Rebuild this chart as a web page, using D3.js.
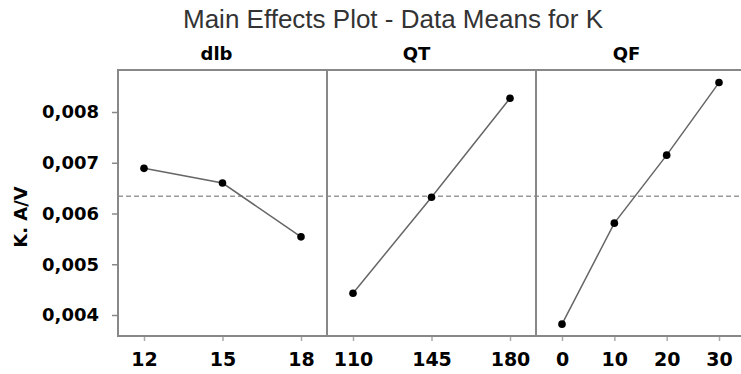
<!DOCTYPE html>
<html>
<head>
<meta charset="utf-8">
<script src="https://cdn.jsdelivr.net/npm/d3@7"></script>
<style>
  body { margin: 0; background: #fff; }
  .tick text { font-family: "DejaVu Sans", sans-serif; font-weight: bold; fill: #000; }
</style>
</head>
<body>
<div id="chart"></div>
<script>
var svgWidth = 741;
var svgHeight = 374;

// factors and their levels
var factors = ["dlb", "QT", "QF"];
var dlbLevels = [12, 15, 18];
var qtLevels = [110, 145, 180];
var qfLevels = [0, 10, 20, 30];

// mean K for each level
var dlbMeans = [0.00689, 0.00660, 0.00554];
var qtMeans = [0.00443, 0.00632, 0.00827];
var qfMeans = [0.00382, 0.00581, 0.00715, 0.00858];

var grandMean = 0.00634;
var yTicks = [0.004, 0.005, 0.006, 0.007, 0.008];

var levels = [dlbLevels, qtLevels, qfLevels];
var means = [dlbMeans, qtMeans, qfMeans];

var plot = { left: 118, right: 745, top: 70, bottom: 336 };
var panelW = (plot.right - plot.left) / factors.length;

var svg = d3.select("#chart")
  .append("svg")
  .attr("width", svgWidth)
  .attr("height", svgHeight);

var locale = d3.formatLocale({ decimal: ",", thousands: ".", grouping: [3], currency: ["", ""] });
var fmt = locale.format(".3f");

// y scale: 0,004 -> 315px, 0,008 -> 112px
var y = d3.scaleLinear()
  .domain([0.004, 0.008])
  .range([315, 112]);

// title
svg.append("text")
  .attr("x", 393)
  .attr("y", 28)
  .attr("text-anchor", "middle")
  .style("font-family", "Liberation Sans, Arial, sans-serif")
  .style("font-size", "26px")
  .attr("fill", "#333")
  .text("Main Effects Plot - Data Means for K");

// y axis label
svg.append("text")
  .attr("transform", "translate(27, 217) rotate(-90)")
  .attr("text-anchor", "middle")
  .style("font-family", "DejaVu Sans, sans-serif")
  .style("font-weight", "bold")
  .style("font-size", "18px")
  .text("K. A/V");

// y axis
var yAxis = svg.append("g")
  .attr("transform", `translate(${plot.left}, 0)`)
  .call(d3.axisLeft(y).tickValues(yTicks).tickFormat(fmt).tickSize(6).tickPadding(13));
yAxis.select(".domain").remove();
yAxis.selectAll(".tick line").attr("stroke", "#888").attr("stroke-width", 1.5);
yAxis.selectAll(".tick text").style("font-size", "18px");

// mean reference line
svg.append("line")
  .attr("x1", plot.left)
  .attr("x2", svgWidth)
  .attr("y1", y(grandMean))
  .attr("y2", y(grandMean))
  .attr("stroke", "#999")
  .attr("stroke-width", 1.5)
  .attr("stroke-dasharray", "5,3");

var labelShift = [-6, -15, -14];

factors.forEach(function(f, i) {
  var x0 = plot.left + i * panelW;
  var x1 = x0 + panelW;

  var x = d3.scalePoint()
    .domain(levels[i])
    .range([x0 + 26, x1 - 26]);

  // strip label
  svg.append("text")
    .attr("x", (x0 + x1) / 2 + labelShift[i])
    .attr("y", 60)
    .attr("text-anchor", "middle")
    .style("font-family", "DejaVu Sans, sans-serif")
    .style("font-weight", "bold")
    .style("font-size", "18px")
    .text(f);

  // x axis
  var xAxis = svg.append("g")
    .attr("transform", `translate(0, ${plot.bottom})`)
    .call(d3.axisBottom(x).tickSize(5).tickPadding(8));
  xAxis.select(".domain").remove();
  xAxis.selectAll(".tick line").attr("stroke", "#aaa").attr("stroke-width", 1.5);
  xAxis.selectAll(".tick text")
    .style("font-size", "19px")
    .attr("y", 30)
    .attr("dy", 0);

  var pts = levels[i].map(function(l, j) { return { lvl: l, v: means[i][j] }; });

  svg.append("path")
    .datum(pts)
    .attr("fill", "none")
    .attr("stroke", "#666")
    .attr("stroke-width", 1.5)
    .attr("d", d3.line().x(d => x(d.lvl)).y(d => y(d.v)));

  svg.selectAll(".pt" + i)
    .data(pts)
    .enter()
    .append("circle")
    .attr("cx", d => x(d.lvl))
    .attr("cy", d => y(d.v))
    .attr("r", 3.8)
    .attr("fill", "#000");

  // panel frame
  svg.append("rect")
    .attr("x", x0)
    .attr("y", plot.top)
    .attr("width", panelW)
    .attr("height", plot.bottom - plot.top)
    .attr("fill", "none")
    .attr("stroke", "#888")
    .attr("stroke-width", 2);
});
</script>
</body>
</html>
